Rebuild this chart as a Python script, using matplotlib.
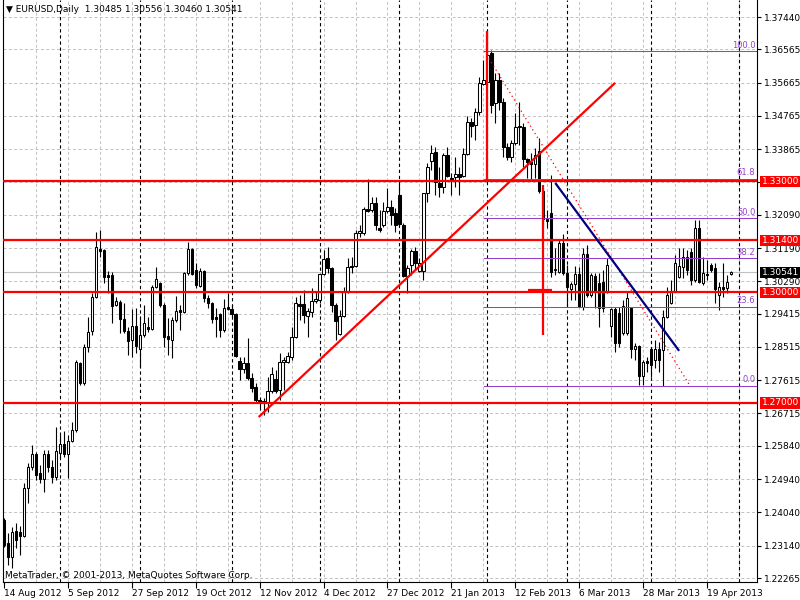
import matplotlib
matplotlib.use("Agg")
import matplotlib.pyplot as plt
import matplotlib.transforms as mtransforms
from matplotlib.patches import Rectangle
import numpy as np
import pandas as pd

# ---- EURUSD daily bars, 14 Aug 2012 .. 29 Apr 2013 ----
opens = [
    1.2383, 1.2321, 1.2283, 1.2354, 1.2351, 1.2340, 1.2470, 1.2527, 1.2562, 1.2511,
    1.2494, 1.2562, 1.2527, 1.2500, 1.2565, 1.2589, 1.2562, 1.2597, 1.2627, 1.2808,
    1.2754, 1.2851, 1.2895, 1.2987, 1.3116, 1.3114, 1.3046, 1.3046, 1.2965, 1.2973,
    1.2927, 1.2895, 1.2870, 1.2908, 1.2846, 1.2884, 1.2905, 1.2900, 1.3014, 1.3024,
    1.2965, 1.2881, 1.2870, 1.2924, 1.2951, 1.2946, 1.3052, 1.3116, 1.3060, 1.3016,
    1.3057, 1.2984, 1.2970, 1.2932, 1.2941, 1.2897, 1.2960, 1.2954, 1.2941, 1.2813,
    1.2792, 1.2808, 1.2768, 1.2743, 1.2708, 1.2705, 1.2700, 1.2732, 1.2765, 1.2735,
    1.2811, 1.2811, 1.2824, 1.2878, 1.2968, 1.2968, 1.2935, 1.2946, 1.2976, 1.2979,
    1.3049, 1.3092, 1.3065, 1.2965, 1.2887, 1.2935, 1.3000, 1.3070, 1.3070, 1.3160,
    1.3160, 1.3225, 1.3222, 1.3241, 1.3173, 1.3181, 1.3219, 1.3230, 1.3214, 1.3263,
    1.3181, 1.3043, 1.3073, 1.3111, 1.3057, 1.3057, 1.3268, 1.3354, 1.3379, 1.3295,
    1.3284, 1.3371, 1.3309, 1.3311, 1.3319, 1.3314, 1.3373, 1.3460, 1.3452, 1.3487,
    1.3563, 1.3568, 1.3647, 1.3511, 1.3574, 1.3514, 1.3392, 1.3365, 1.3403, 1.3446,
    1.3446, 1.3360, 1.3352, 1.3346, 1.3382, 1.3273, 1.3198, 1.3214, 1.3060, 1.3054,
    1.3133, 1.3052, 1.3008, 1.3022, 1.3049, 1.2960, 1.3103, 1.2992, 1.3043, 1.3024,
    1.3027, 1.3000, 1.2908, 1.2954, 1.2943, 1.2889, 1.2889, 1.2957, 1.2846, 1.2854,
    1.2773, 1.2813, 1.2846, 1.2816, 1.2846, 1.2843, 1.2932, 1.2970, 1.3003, 1.3041,
    1.3068, 1.3095, 1.3108, 1.3033, 1.3173, 1.3024, 1.3049, 1.3073, 1.3065, 1.2992,
    1.3014, 1.3011, 1.30485,
]
highs = [
    1.2389, 1.2348, 1.2364, 1.2375, 1.2367, 1.2483, 1.2538, 1.2586, 1.2567, 1.2532,
    1.2573, 1.2573, 1.2546, 1.2635, 1.2613, 1.2624, 1.2613, 1.2648, 1.2816, 1.2811,
    1.2859, 1.2932, 1.2997, 1.3162, 1.3168, 1.3116, 1.3057, 1.3054, 1.2987, 1.2979,
    1.2970, 1.2905, 1.2954, 1.2957, 1.2933, 1.2965, 1.2933, 1.3019, 1.3068, 1.3027,
    1.2970, 1.2930, 1.2933, 1.2989, 1.2965, 1.3054, 1.3135, 1.3119, 1.3079, 1.3065,
    1.3060, 1.2992, 1.2973, 1.2957, 1.2943, 1.2981, 1.2997, 1.2965, 1.2943, 1.2824,
    1.2824, 1.2876, 1.2781, 1.2754, 1.2716, 1.2714, 1.2770, 1.2797, 1.2789, 1.2835,
    1.2824, 1.2838, 1.2905, 1.2987, 1.2992, 1.3006, 1.2957, 1.3011, 1.3000, 1.3049,
    1.3114, 1.3122, 1.3068, 1.2970, 1.2951, 1.3014, 1.3092, 1.3095, 1.3168, 1.3181,
    1.3230, 1.3306, 1.3257, 1.3257, 1.3222, 1.3244, 1.3281, 1.3249, 1.3227, 1.3295,
    1.3187, 1.3073, 1.3116, 1.3122, 1.3092, 1.3268, 1.3349, 1.3398, 1.3392, 1.3338,
    1.3376, 1.3392, 1.3322, 1.3365, 1.3338, 1.3390, 1.3476, 1.3471, 1.3498, 1.3582,
    1.3628, 1.3706, 1.3655, 1.3593, 1.3593, 1.3525, 1.3403, 1.3411, 1.3484, 1.3514,
    1.3457, 1.3363, 1.3376, 1.3390, 1.3417, 1.3281, 1.3222, 1.3317, 1.3119, 1.3143,
    1.3157, 1.3073, 1.3027, 1.3070, 1.3068, 1.3119, 1.3127, 1.3052, 1.3052, 1.3052,
    1.3060, 1.3092, 1.2957, 1.2960, 1.2960, 1.2979, 1.3000, 1.2960, 1.2862, 1.2857,
    1.2816, 1.2824, 1.2851, 1.2870, 1.2865, 1.2951, 1.3014, 1.3033, 1.3100, 1.3119,
    1.3119, 1.3114, 1.3119, 1.3195, 1.3195, 1.3095, 1.3087, 1.3079, 1.3079, 1.3027,
    1.3079, 1.3046, 1.30556,
]
lows = [
    1.2310, 1.2262, 1.2254, 1.2308, 1.2289, 1.2337, 1.2429, 1.2519, 1.2492, 1.2483,
    1.2459, 1.2513, 1.2483, 1.2492, 1.2554, 1.2554, 1.2497, 1.2594, 1.2621, 1.2749,
    1.2749, 1.2838, 1.2884, 1.2984, 1.3095, 1.3024, 1.2997, 1.2916, 1.2962, 1.2889,
    1.2889, 1.2830, 1.2824, 1.2835, 1.2797, 1.2878, 1.2892, 1.2897, 1.3011, 1.2960,
    1.2851, 1.2830, 1.2822, 1.2919, 1.2897, 1.2943, 1.3046, 1.3046, 1.3011, 1.3014,
    1.2973, 1.2957, 1.2916, 1.2878, 1.2878, 1.2892, 1.2951, 1.2933, 1.2824, 1.2762,
    1.2781, 1.2762, 1.2730, 1.2703, 1.2681, 1.2667, 1.2676, 1.2727, 1.2727, 1.2708,
    1.2735, 1.2808, 1.2816, 1.2876, 1.2924, 1.2916, 1.2878, 1.2933, 1.2970, 1.2970,
    1.3046, 1.3052, 1.2946, 1.2870, 1.2884, 1.2933, 1.2997, 1.3052, 1.3068, 1.3149,
    1.3154, 1.3217, 1.3217, 1.3168, 1.3162, 1.3176, 1.3214, 1.3181, 1.3162, 1.3179,
    1.3041, 1.2997, 1.3046, 1.3060, 1.3054, 1.3033, 1.3244, 1.3330, 1.3263, 1.3257,
    1.3268, 1.3311, 1.3263, 1.3284, 1.3263, 1.3311, 1.3371, 1.3419, 1.3411, 1.3479,
    1.3560, 1.3560, 1.3484, 1.3457, 1.3492, 1.3365, 1.3357, 1.3352, 1.3398, 1.3398,
    1.3338, 1.3309, 1.3303, 1.3309, 1.3268, 1.3181, 1.3173, 1.3041, 1.3046, 1.3052,
    1.3046, 1.2962, 1.2979, 1.2979, 1.2960, 1.2951, 1.2987, 1.2987, 1.2957, 1.2905,
    1.2946, 1.2997, 1.2878, 1.2838, 1.2851, 1.2884, 1.2884, 1.2822, 1.2816, 1.2749,
    1.2749, 1.2784, 1.2770, 1.2795, 1.2784, 1.2746, 1.2930, 1.2968, 1.3000, 1.3038,
    1.3038, 1.3046, 1.3019, 1.3027, 1.3024, 1.3019, 1.3033, 1.3054, 1.2970, 1.2951,
    1.2987, 1.2997, 1.30460,
]
closes = [
    1.2316, 1.2283, 1.2351, 1.2329, 1.2340, 1.2470, 1.2527, 1.2562, 1.2505, 1.2494,
    1.2562, 1.2527, 1.2500, 1.2570, 1.2589, 1.2562, 1.2597, 1.2627, 1.2811, 1.2754,
    1.2851, 1.2892, 1.2987, 1.3122, 1.3111, 1.3041, 1.3041, 1.2962, 1.2976, 1.2927,
    1.2895, 1.2868, 1.2908, 1.2854, 1.2884, 1.2916, 1.2900, 1.3014, 1.3035, 1.2965,
    1.2878, 1.2873, 1.2924, 1.2949, 1.2946, 1.3052, 1.3116, 1.3049, 1.3019, 1.3057,
    1.2984, 1.2970, 1.2927, 1.2927, 1.2897, 1.2957, 1.2954, 1.2941, 1.2827, 1.2792,
    1.2808, 1.2768, 1.2740, 1.2708, 1.2703, 1.2700, 1.2732, 1.2778, 1.2732, 1.2811,
    1.2816, 1.2827, 1.2878, 1.2970, 1.2962, 1.2938, 1.2949, 1.2976, 1.2981, 1.3049,
    1.3089, 1.3065, 1.2965, 1.2922, 1.2935, 1.3000, 1.3068, 1.3068, 1.3160, 1.3165,
    1.3225, 1.3219, 1.3241, 1.3181, 1.3168, 1.3219, 1.3230, 1.3208, 1.3181, 1.3184,
    1.3043, 1.3065, 1.3111, 1.3079, 1.3079, 1.3268, 1.3338, 1.3376, 1.3298, 1.3284,
    1.3371, 1.3314, 1.3303, 1.3319, 1.3311, 1.3373, 1.3460, 1.3449, 1.3487, 1.3565,
    1.3574, 1.3641, 1.3506, 1.3574, 1.3514, 1.3392, 1.3365, 1.3403, 1.3446, 1.3449,
    1.3360, 1.3352, 1.3346, 1.3371, 1.3273, 1.3198, 1.3192, 1.3054, 1.3062, 1.3133,
    1.3052, 1.3014, 1.3022, 1.3049, 1.2960, 1.3103, 1.2992, 1.3046, 1.3000, 1.2957,
    1.2957, 1.3073, 1.2954, 1.2862, 1.2862, 1.2962, 1.2984, 1.2846, 1.2854, 1.2773,
    1.2811, 1.2808, 1.2803, 1.2846, 1.2816, 1.2932, 1.2992, 1.3003, 1.3079, 1.3070,
    1.3095, 1.3060, 1.3033, 1.3173, 1.3027, 1.3052, 1.3046, 1.3060, 1.3007, 1.3014,
    1.3008, 1.3027, 1.30541,
]

holidays = ["2012-12-25", "2013-01-01"]
price_ticks = [1.22265, 1.23140, 1.24040, 1.24940, 1.25840, 1.26715, 1.27615, 1.28515,
               1.29415, 1.30290, 1.31190, 1.32090, 1.32965, 1.33865, 1.34765, 1.35665,
               1.36565, 1.37440]
hidden_ticks = [1.32965]   # label covered by the 1.33000 box in the terminal

# drawn objects
red_levels = [1.3300, 1.3140, 1.3000, 1.2700]
fib_levels = [0.0, 23.6, 38.2, 50.0, 61.8, 100.0]
fib_high, fib_low = 1.3652, 1.2746
fib_bars = (120.25, 171.75)
trend_red = [(63.75, 1.2662), (153.0, 1.3566)]
trend_blue = [(138.0, 1.3295), (169.0, 1.2841)]
red_vlines = [(121, 1.3706, 1.3300), (135, 1.3289, 1.2884)]
red_hseg = (131.25, 137.25, 1.3006)

RED = "#ff0000"; FIB = "#9440c8"; GRID = "#c0c0c0"
plt.rcParams["font.family"] = "DejaVu Sans"
FS = 6.5

opens = np.array(opens); highs = np.array(highs); lows = np.array(lows); closes = np.array(closes)
n = len(closes)
idx = np.arange(n)

dates = pd.bdate_range("2012-08-14", "2013-05-15")
dates = dates[~dates.isin(pd.to_datetime(holidays))]
XMAX = 188.5

fig = plt.figure(figsize=(8, 6), dpi=100)
ax = fig.add_axes([3/800, 18/600, 754/800, 582/600])
ax.set_xlim(-0.25, XMAX)
ax.set_ylim(1.22157, 1.3790)

# grid
for p in price_ticks:
    ax.axhline(p, color=GRID, lw=0.7, ls=(0, (3, 2.5)), zorder=1)
for i in range(8, int(XMAX) + 1, 8):
    ax.axvline(i, color=GRID, lw=0.7, ls=(0, (3, 2.5)), zorder=1)
# month separators
for i in range(1, len(dates)):
    if dates[i].month != dates[i - 1].month and i < XMAX:
        ax.axvline(i, color="black", lw=0.8, ls=(0, (3, 2.5)), zorder=1.5)

# current price line
ax.axhline(closes[-1], color="#c0c0c0", lw=0.8, zorder=2)

# candles
ax.vlines(idx, lows, highs, color="black", lw=0.8, zorder=3)
up = closes >= opens
body = np.where(np.abs(closes - opens) < 0.00005, 0.00005, closes - opens)
ax.bar(idx[up], body[up], bottom=opens[up], width=0.6, color="white",
       edgecolor="black", linewidth=0.75, zorder=4)
ax.bar(idx[~up], body[~up], bottom=opens[~up], width=0.6, color="black",
       edgecolor="black", linewidth=0.75, zorder=4)

# horizontal support/resistance levels
for lv in red_levels:
    ax.axhline(lv, color=RED, lw=1.6, zorder=6)

# fibonacci retracement
for lv in fib_levels:
    p = fib_low + (fib_high - fib_low) * lv / 100
    ax.plot([fib_bars[0], XMAX], [p, p], color=FIB, lw=0.75, zorder=5)
    ax.text(XMAX - 0.4, p + 0.0004, f"{lv:.1f}", color=FIB, fontsize=FS - 0.5,
            ha="right", va="bottom", zorder=5)
ax.plot(fib_bars, [fib_high, fib_low], color=RED, lw=0.9, ls=(0, (1, 2.5)), zorder=5)

# trend lines
ax.plot(*zip(*trend_red), color=RED, lw=1.6, zorder=6, solid_capstyle="butt")
ax.plot(*zip(*trend_blue), color="#000080", lw=1.6, zorder=6, solid_capstyle="butt")
for x, y0, y1 in red_vlines:
    ax.plot([x, x], [y0, y1], color=RED, lw=1.6, zorder=6, solid_capstyle="butt")
ax.plot(red_hseg[:2], [red_hseg[2]] * 2, color=RED, lw=1.6, zorder=6, solid_capstyle="butt")

# axes styling
ax.spines["top"].set_visible(False)
for s in ("left", "right", "bottom"):
    ax.spines[s].set_linewidth(0.8)
ax.yaxis.tick_right()
ax.set_yticks(price_ticks)
ax.set_yticklabels(["" if p in hidden_ticks else f"{p:.5f}" for p in price_ticks])
ax.tick_params(axis="y", labelsize=FS, length=3, width=0.8, pad=2)
xt = list(range(0, int(XMAX), 16))
ax.set_xticks(xt)
ax.set_xticklabels([f"{dates[i].day} {dates[i]:%b %Y}" for i in xt], ha="left")
ax.tick_params(axis="x", labelsize=FS, length=4, width=0.8, pad=1)

# right-axis price boxes
tr = mtransforms.blended_transform_factory(fig.transFigure, ax.transData)
boxh = 0.0030
for lv, fc in [(lv, RED) for lv in red_levels] + [(closes[-1], "black")]:
    ax.add_patch(Rectangle((760/800, lv - boxh/2), 40/800, boxh, transform=tr,
                           facecolor=fc, edgecolor="none", clip_on=False, zorder=7))
    ax.text(762/800, lv, f"{lv:.5f}", transform=tr, color="white", fontsize=FS,
            va="center", ha="left", clip_on=False, zorder=8)

fig.text(6/800, 1 - 10/600, "\u25bc EURUSD,Daily  1.30485 1.30556 1.30460 1.30541",
         fontsize=FS, va="center", ha="left")
fig.text(5/800, 1 - 575/600, "MetaTrader, \u00a9 2001-2013, MetaQuotes Software Corp.",
         fontsize=FS, va="center", ha="left")

fig.savefig("out.png", dpi=100)
